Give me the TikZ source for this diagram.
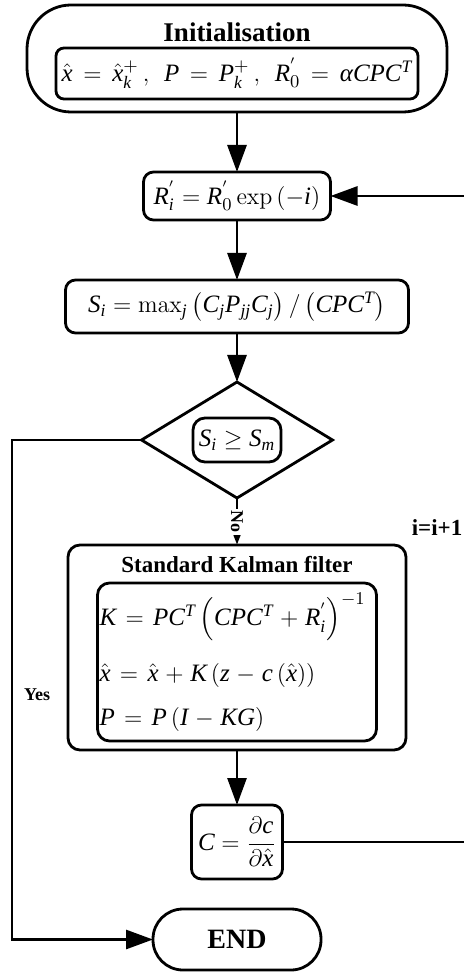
\documentclass[tikz,border=0pt]{standalone}
\usepackage{amsmath}
\usepackage[no-math]{fontspec}
\setmainfont{Liberation Serif}[NFSSFamily=libser]
% italic letters of the formulas from Liberation Serif
\DeclareSymbolFont{tletters}{TU}{libser}{m}{it}
\newcount\mathlc
\mathlc=`A
\loop \Umathcode\mathlc="7 \symtletters\mathlc
  \ifnum\mathlc<`Z \advance\mathlc by 1 \repeat
\mathlc=`a
\loop \Umathcode\mathlc="7 \symtletters\mathlc
  \ifnum\mathlc<`z \advance\mathlc by 1 \repeat
\Umathchardef\alpha="7 \symtletters "03B1
\usepackage{tikz}
\usetikzlibrary{positioning,arrows.meta,shapes.geometric}
\tikzset{
  box/.style   = {draw, rounded corners=5pt, line width=1.4pt, outer sep=0pt, inner sep=1pt, align=center,
                  font=\fontsize{12.5}{15}\selectfont},
  tbox/.style  = {draw, rounded corners=22pt, line width=1.4pt, outer sep=0pt, inner sep=1pt},
  dbox/.style  = {draw, diamond, line width=1.4pt, outer sep=0pt, inner sep=0pt},
  ttl/.style   = {inner sep=1pt, font=\fontsize{13.5}{16}\selectfont\bfseries},
  lbl/.style   = {inner sep=1pt, font=\fontsize{9}{11}\selectfont\bfseries},
  flow/.style  = {-{Triangle[length=13.5pt,width=9.5pt]}, line width=1.4pt},
  sflow/.style = {-{Triangle[length=6pt,width=4pt]}, line width=1.4pt},
}
\newcommand{\wide}{\thickmuskip=7mu plus 2mu\medmuskip=5mu plus 2mu}

\begin{document}
\begin{tikzpicture}[node distance=30pt]
  \useasboundingbox (0,0) rectangle (232pt,-486pt);
  \node[tbox, minimum width=210pt, minimum height=53.5pt] (init) at (118.5pt,-29.25pt) {};
  \node[ttl] (initt) at ([yshift=-13.5pt]init.north) {Initialisation};
  \node[box, rounded corners=4pt, minimum width=181pt, minimum height=25.5pt] (inits) at ([yshift=-34.25pt]init.north)
    {\wide\thickmuskip=8mu$\hat{x}=\hat{x}^{+}_{k}\,,\;P=P^{+}_{k}\,,\;R^{'}_{0}=\alpha CPC^{T}$};
  \node[box, below=30pt of init, minimum width=93.5pt, minimum height=24pt] (ri) {$R^{'}_{i}=R^{'}_{0}\exp\left(-i\right)$};
  \node[box, below=30pt of ri, minimum width=171.5pt, minimum height=26.5pt] (si)
    {$S_{i}=\max\nolimits_{j}\left(C_{j}P_{jj}C_{j}\right)/\left(CPC^{T}\right)$};
  \node[dbox, below=24.5pt of si, minimum width=95.5pt, minimum height=58pt] (dec) {};
  \node[box, rounded corners=6pt, minimum width=44pt, minimum height=22pt] (cond) at (dec.center) {$S_{i}\geq S_{m}$};
  \node[box, rounded corners=6pt, below=23.5pt of dec, minimum width=169pt, minimum height=102.5pt] (kal) {};
  \node[ttl, font=\fontsize{11.5}{14}\selectfont\bfseries] (kalt) at ([yshift=-10pt]kal.north) {Standard Kalman filter};
  \node[box, rounded corners=6pt, align=left, text width=137.5pt, minimum height=79pt] (kaleq) at ([yshift=-58.5pt]kal.north)
    {\wide$K=PC^{T}\left(CPC^{T}+R^{'}_{i}\right)^{-1}$\\[10pt]
     $\hat{x}=\hat{x}+K\left(z-c\left(\hat{x}\right)\right)$\\[7pt]
     $P=P\left(I-KG\right)$};
  \node[box, below=27.5pt of kal, minimum width=45.5pt, minimum height=37pt] (cc) {$C=\dfrac{\partial c}{\partial\hat{x}}$};
  \node[tbox, rounded corners=15pt, below=15pt of cc, minimum width=84pt, minimum height=30.5pt,
    font=\fontsize{14}{16}\selectfont\bfseries] (end) {END};
  \coordinate (lft) at (6pt,0);
  \coordinate (rgt) at (240pt,0);
  \draw[flow] (init) -- (ri);
  \draw[flow] (ri) -- (si);
  \draw[flow] (si) -- (dec);
  \draw[sflow] (dec) -- node[lbl, fill=white, rotate=-90] (no) {No} (kal);
  \draw[flow] (kal) -- (cc);
  \draw[flow] (dec.west) -- (dec.west -| lft) |- (end.west);
  \draw[flow] (cc.east) -- (cc.east -| rgt) |- (ri.east);
  \node[lbl] (yes) at (18.5pt,-347.5pt) {Yes};
  \node[ttl, font=\fontsize{11.5}{14}\selectfont\bfseries] (inc) at (218.5pt,-264pt) {i=i+1};
\end{tikzpicture}
\end{document}
